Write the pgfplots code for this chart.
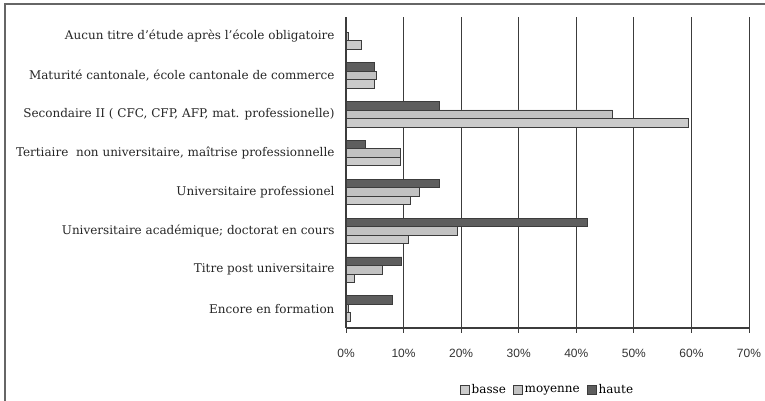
\documentclass[border=0pt]{standalone}
\usepackage{pgfplots}
\pgfplotsset{compat=1.18}
\usepackage{fontspec}
\setmainfont{DejaVu Serif}
\newfontfamily\tickfont{Liberation Sans}
\definecolor{cbasse}{HTML}{CBCBCB}
\definecolor{cmoy}{HTML}{C2C2C2}
\definecolor{chaute}{HTML}{5E5E5E}
\definecolor{cline}{HTML}{3C3C3C}
\newcommand{\ap}{\char39\relax}
\begin{document}
\begin{tikzpicture}[x=1pt,y=1pt]
\useasboundingbox (0,0) rectangle (765,401);
\draw[line width=2pt, color=black!60] (5,0) -- (5,397) -- (765,397);
\begin{axis}[
  at={(346pt,73pt)}, anchor=south west,
  scale only axis, width=403pt, height=311pt,
  xmin=0, xmax=70, ymin=-0.5, ymax=7.5,
  xbar=0pt, bar width=8.5pt,
  axis x line*=bottom, axis y line*=left,
  axis line style={cline, line width=1.1pt},
  xtick={0,10,...,70},
  xticklabel={\pgfmathprintnumber{\tick}\%},
  /pgf/number format/assume math mode=true,
  xticklabel style={font=\tickfont\fontsize{12}{12}\selectfont, yshift=-13pt, text=black!80},
  tick align=outside,
  major tick length=5pt,
  minor tick length=5pt,
  tick style={cline, line width=1pt},
  xmajorgrids,
  major grid style={cline, line width=1pt},
  ytick={0,...,7},
  y tick style={draw=none},
  minor ytick={-0.5,0.5,...,7.5},
  minor y tick style={cline, line width=1pt},
  yticklabels={{Encore en formation}, {Titre post universitaire}, {Universitaire académique; doctorat en cours}, {Universitaire professionel}, {Tertiaire\ \ non universitaire, maîtrise professionnelle}, {Secondaire II ( CFC, CFP, AFP, mat. professionelle)}, {Maturité cantonale, école cantonale de commerce}, {Aucun titre d\ap étude après l\ap école obligatoire}},
  yticklabel style={font=\fontsize{12}{12}\selectfont, anchor=east, xshift=-3pt, text=black!85},
  legend style={at={(0.5,-0.199)}, anchor=center, draw=none, legend columns=-1,
    font=\fontsize{12}{12}\selectfont, /tikz/every even column/.append style={column sep=5pt}},
  legend image code/.code={\draw[#1] (0pt,-4.5pt) rectangle (9pt,4.5pt);},
  every axis plot/.append style={draw=cline, line width=0.8pt},
]
\addplot[fill=cbasse] coordinates {(2.7,7) (4.9,6) (59.4,5) (9.4,4) (11.1,3) (10.9,2) (1.4,1) (0.7,0)};
\addplot[fill=cmoy] coordinates {(0.5,7) (5.2,6) (46.3,5) (9.5,4) (12.7,3) (19.3,2) (6.3,1) (0.5,0)};
\addplot[fill=chaute] coordinates {(4.9,6) (16.2,5) (3.3,4) (16.2,3) (42.0,2) (9.7,1) (8.1,0)};
\legend{basse, moyenne, haute}
\end{axis}
\end{tikzpicture}
\end{document}
